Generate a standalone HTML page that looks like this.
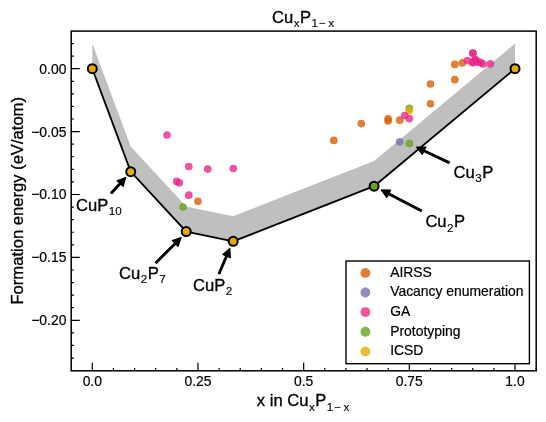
<!DOCTYPE html><html><head><meta charset="utf-8"><style>html,body{margin:0;padding:0;background:#fff}svg{display:block;will-change:transform;opacity:0.999}text{font-family:"Liberation Sans",sans-serif;fill:#000;stroke:#000;stroke-width:0.3px}.t{stroke-width:0.2px}.s{stroke-width:0.12px}</style></head><body>
<svg width="546" height="422" viewBox="0 0 546 422">
<rect width="546" height="422" fill="#fff"/>
<polygon points="92.30,68.70 130.73,171.73 186.23,231.61 233.20,241.30 374.10,186.20 515.00,68.70 515.00,43.54 374.10,161.04 233.20,216.14 186.23,206.45 130.73,146.57 92.30,43.54" fill="#bfbfbf"/>
<polyline points="92.30,68.70 130.73,171.73 186.23,231.61 233.20,241.30 374.10,186.20 515.00,68.70" fill="none" stroke="#000" stroke-width="1.85" stroke-linejoin="round"/>
<circle cx="167.0" cy="135.0" r="3.85" fill="#E7298A" fill-opacity="0.8"/>
<circle cx="188.8" cy="166.5" r="3.85" fill="#E7298A" fill-opacity="0.8"/>
<circle cx="207.7" cy="169.1" r="3.85" fill="#E7298A" fill-opacity="0.8"/>
<circle cx="233.3" cy="168.5" r="3.85" fill="#E7298A" fill-opacity="0.8"/>
<circle cx="176.7" cy="181.4" r="3.85" fill="#E7298A" fill-opacity="0.8"/>
<circle cx="179.3" cy="182.8" r="3.85" fill="#E7298A" fill-opacity="0.8"/>
<circle cx="188.8" cy="195.2" r="3.85" fill="#E7298A" fill-opacity="0.8"/>
<circle cx="198.0" cy="201.3" r="3.85" fill="#D95F02" fill-opacity="0.8"/>
<circle cx="183.0" cy="207.0" r="3.85" fill="#66A61E" fill-opacity="0.8"/>
<circle cx="333.8" cy="140.4" r="3.85" fill="#D95F02" fill-opacity="0.8"/>
<circle cx="361.3" cy="123.6" r="3.85" fill="#D95F02" fill-opacity="0.8"/>
<circle cx="388.1" cy="118.8" r="3.85" fill="#D95F02" fill-opacity="0.8"/>
<circle cx="388.1" cy="121.0" r="3.85" fill="#D95F02" fill-opacity="0.8"/>
<circle cx="399.7" cy="120.2" r="3.85" fill="#D95F02" fill-opacity="0.8"/>
<circle cx="430.5" cy="103.8" r="3.85" fill="#D95F02" fill-opacity="0.8"/>
<circle cx="430.5" cy="84.0" r="3.85" fill="#D95F02" fill-opacity="0.8"/>
<circle cx="454.8" cy="79.7" r="3.85" fill="#D95F02" fill-opacity="0.8"/>
<circle cx="454.8" cy="64.4" r="3.85" fill="#D95F02" fill-opacity="0.8"/>
<circle cx="462.3" cy="62.9" r="3.85" fill="#D95F02" fill-opacity="0.8"/>
<circle cx="409.3" cy="108.3" r="3.85" fill="#66A61E" fill-opacity="0.8"/>
<circle cx="409.3" cy="110.7" r="3.85" fill="#E6AB02" fill-opacity="0.8"/>
<circle cx="404.7" cy="115.6" r="3.85" fill="#E7298A" fill-opacity="0.8"/>
<circle cx="409.3" cy="118.6" r="3.85" fill="#E7298A" fill-opacity="0.8"/>
<circle cx="399.7" cy="141.8" r="3.85" fill="#7570B3" fill-opacity="0.8"/>
<circle cx="409.3" cy="143.4" r="3.85" fill="#66A61E" fill-opacity="0.8"/>
<circle cx="472.9" cy="53.1" r="3.85" fill="#E7298A" fill-opacity="0.8"/>
<circle cx="472.9" cy="53.3" r="3.85" fill="#E7298A" fill-opacity="0.8"/>
<circle cx="467.4" cy="60.5" r="3.85" fill="#E7298A" fill-opacity="0.8"/>
<circle cx="472.7" cy="62.6" r="3.85" fill="#E7298A" fill-opacity="0.8"/>
<circle cx="472.9" cy="62.3" r="3.85" fill="#E7298A" fill-opacity="0.8"/>
<circle cx="475.2" cy="59.7" r="3.85" fill="#E7298A" fill-opacity="0.8"/>
<circle cx="475.4" cy="60.0" r="3.85" fill="#E7298A" fill-opacity="0.8"/>
<circle cx="477.7" cy="61.8" r="3.85" fill="#E7298A" fill-opacity="0.8"/>
<circle cx="477.9" cy="62.0" r="3.85" fill="#E7298A" fill-opacity="0.8"/>
<circle cx="480.6" cy="62.6" r="3.85" fill="#E7298A" fill-opacity="0.8"/>
<circle cx="483.0" cy="64.0" r="3.85" fill="#E7298A" fill-opacity="0.8"/>
<circle cx="490.3" cy="63.9" r="3.85" fill="#E7298A" fill-opacity="0.8"/>
<circle cx="92.30" cy="68.70" r="4.5" fill="#E6AB02" stroke="#000" stroke-width="2"/>
<circle cx="130.73" cy="171.73" r="4.5" fill="#E6AB02" stroke="#000" stroke-width="2"/>
<circle cx="186.23" cy="231.61" r="4.5" fill="#E6AB02" stroke="#000" stroke-width="2"/>
<circle cx="233.20" cy="241.30" r="4.5" fill="#E6AB02" stroke="#000" stroke-width="2"/>
<circle cx="374.10" cy="186.20" r="4.5" fill="#66A61E" stroke="#000" stroke-width="2"/>
<circle cx="515.00" cy="68.70" r="4.5" fill="#E6AB02" stroke="#000" stroke-width="2"/>
<polygon points="111.99,193.64 120.72,184.08 123.09,186.23 125.66,177.48 117.18,180.84 119.54,183.00 110.81,192.56" fill="#000" stroke="#000" stroke-width="1.30" stroke-linejoin="round"/>
<polygon points="156.46,263.27 175.79,244.01 178.05,246.28 181.04,237.66 172.41,240.61 174.67,242.88 155.34,262.13" fill="#000" stroke="#000" stroke-width="1.30" stroke-linejoin="round"/>
<polygon points="219.84,273.82 227.34,256.35 230.28,257.61 229.84,248.50 222.93,254.45 225.87,255.72 218.36,273.18" fill="#000" stroke="#000" stroke-width="1.30" stroke-linejoin="round"/>
<polygon points="421.67,210.09 389.02,193.08 390.50,190.24 381.38,190.00 386.80,197.34 388.28,194.50 420.93,211.51" fill="#000" stroke="#000" stroke-width="1.30" stroke-linejoin="round"/>
<polygon points="449.44,161.88 424.34,149.97 425.71,147.08 416.59,147.18 422.28,154.31 423.65,151.42 448.76,163.32" fill="#000" stroke="#000" stroke-width="1.30" stroke-linejoin="round"/>
<path d="M92.30 370.80V362.80M197.97 370.80V362.80M303.65 370.80V362.80M409.32 370.80V362.80M515.00 370.80V362.80M113.44 370.80V368.00M134.57 370.80V368.00M155.71 370.80V368.00M176.84 370.80V368.00M219.11 370.80V368.00M240.25 370.80V368.00M261.38 370.80V368.00M282.51 370.80V368.00M324.79 370.80V368.00M345.92 370.80V368.00M367.06 370.80V368.00M388.19 370.80V368.00M430.46 370.80V368.00M451.60 370.80V368.00M472.73 370.80V368.00M493.87 370.80V368.00M536.13 370.80V368.00M71.20 358.04H73.90M71.20 345.46H73.90M71.20 332.88H73.90M71.20 320.30H79.80M71.20 307.72H73.90M71.20 295.14H73.90M71.20 282.56H73.90M71.20 269.98H73.90M71.20 257.40H79.80M71.20 244.82H73.90M71.20 232.24H73.90M71.20 219.66H73.90M71.20 207.08H73.90M71.20 194.50H79.80M71.20 181.92H73.90M71.20 169.34H73.90M71.20 156.76H73.90M71.20 144.18H73.90M71.20 131.60H79.80M71.20 119.02H73.90M71.20 106.44H73.90M71.20 93.86H73.90M71.20 81.28H73.90M71.20 68.70H79.80M71.20 56.12H73.90M71.20 43.54H73.90" stroke="#000" stroke-width="1.2" fill="none"/>
<rect x="346.0" y="261.0" width="183.4" height="102.7" fill="#fff" stroke="#000" stroke-width="1.4"/>
<circle cx="365.4" cy="272.9" r="4.95" fill="#D95F02" fill-opacity="0.8"/>
<text x="390.2" y="276.8" class="t" font-size="13.9">AIRSS</text>
<circle cx="365.4" cy="292.5" r="4.95" fill="#7570B3" fill-opacity="0.8"/>
<text x="390.2" y="296.4" class="t" font-size="13.9">Vacancy enumeration</text>
<circle cx="365.4" cy="312.1" r="4.95" fill="#E7298A" fill-opacity="0.8"/>
<text x="390.2" y="316.0" class="t" font-size="13.9">GA</text>
<circle cx="365.4" cy="331.8" r="4.95" fill="#66A61E" fill-opacity="0.8"/>
<text x="390.2" y="335.7" class="t" font-size="13.9">Prototyping</text>
<circle cx="365.4" cy="351.4" r="4.95" fill="#E6AB02" fill-opacity="0.8"/>
<text x="390.2" y="355.3" class="t" font-size="13.9">ICSD</text>
<rect x="71.20" y="31.10" width="465.00" height="339.70" fill="none" stroke="#000" stroke-width="1.5"/>
<text x="92.3" y="385.7" class="t" font-size="13.9" text-anchor="middle">0.0</text>
<text x="198.0" y="385.7" class="t" font-size="13.9" text-anchor="middle">0.25</text>
<text x="303.6" y="385.7" class="t" font-size="13.9" text-anchor="middle">0.5</text>
<text x="409.3" y="385.7" class="t" font-size="13.9" text-anchor="middle">0.75</text>
<text x="515.0" y="385.7" class="t" font-size="13.9" text-anchor="middle">1.0</text>
<text x="66.4" y="73.6" class="t" font-size="13.9" text-anchor="end">0.00</text>
<text x="66.4" y="136.5" class="t" font-size="13.9" text-anchor="end">−0.05</text>
<text x="66.4" y="199.4" class="t" font-size="13.9" text-anchor="end">−0.10</text>
<text x="66.4" y="262.3" class="t" font-size="13.9" text-anchor="end">−0.15</text>
<text x="66.4" y="325.2" class="t" font-size="13.9" text-anchor="end">−0.20</text>
<text x="272.0" y="22.6" font-size="16.60"><tspan dx="0.0" dy="0.00">Cu</tspan><tspan class="s" font-size="11.62" dx="0.5" dy="4.60">x</tspan><tspan dx="0.5" dy="-4.60">P</tspan><tspan class="s" font-size="11.62" dx="0.5" dy="4.60">1</tspan><tspan class="s" font-size="11.62" dx="0.9">−</tspan><tspan class="s" font-size="11.62" dx="2.6">x</tspan></text>
<text x="256.8" y="406.1" font-size="16.60"><tspan dx="0.0" dy="0.00">x in Cu</tspan><tspan class="s" font-size="11.62" dx="0.5" dy="4.60">x</tspan><tspan dx="0.5" dy="-4.60">P</tspan><tspan class="s" font-size="11.62" dx="0.5" dy="4.60">1</tspan><tspan class="s" font-size="11.62" dx="0.9">−</tspan><tspan class="s" font-size="11.62" dx="2.6">x</tspan></text>
<text transform="translate(22.6,200.8) rotate(-90)" font-size="16.6" text-anchor="middle">Formation energy (eV/atom)</text>
<text x="76.0" y="210.7" font-size="16.60"><tspan dx="0.0" dy="0.00">CuP</tspan><tspan class="s" font-size="11.62" dx="0.5" dy="4.60">10</tspan></text>
<text x="119.0" y="278.8" font-size="16.60"><tspan dx="0.0" dy="0.00">Cu</tspan><tspan class="s" font-size="11.62" dx="0.5" dy="4.60">2</tspan><tspan dx="0.5" dy="-4.60">P</tspan><tspan class="s" font-size="11.62" dx="0.5" dy="4.60">7</tspan></text>
<text x="193.0" y="290.6" font-size="16.60"><tspan dx="0.0" dy="0.00">CuP</tspan><tspan class="s" font-size="11.62" dx="0.5" dy="4.60">2</tspan></text>
<text x="425.4" y="227.0" font-size="16.60"><tspan dx="0.0" dy="0.00">Cu</tspan><tspan class="s" font-size="11.62" dx="0.5" dy="4.60">2</tspan><tspan dx="0.5" dy="-4.60">P</tspan></text>
<text x="453.6" y="177.6" font-size="16.60"><tspan dx="0.0" dy="0.00">Cu</tspan><tspan class="s" font-size="11.62" dx="0.5" dy="4.60">3</tspan><tspan dx="0.5" dy="-4.60">P</tspan></text>
</svg></body></html>
